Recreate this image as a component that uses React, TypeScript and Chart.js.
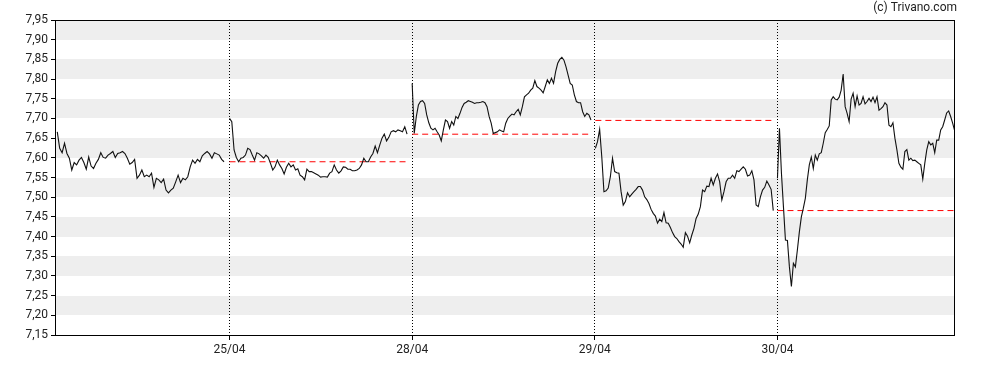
import { useEffect, useRef } from "react";
import { Chart, registerables } from "chart.js";

Chart.register(...registerables);

// ---- data ----
const dayLabels = ["24/04", "25/04", "28/04", "29/04", "30/04"];

const day24 = [7.666, 7.624, 7.613, 7.637, 7.611, 7.599, 7.569, 7.588, 7.582, 7.594, 7.601, 7.588, 7.571, 7.602, 7.579, 7.573, 7.586, 7.596, 7.613, 7.601, 7.599, 7.607, 7.611, 7.616, 7.601, 7.611, 7.613, 7.616, 7.611, 7.599, 7.584, 7.588, 7.596, 7.548, 7.556, 7.569, 7.552, 7.556, 7.552, 7.561, 7.525, 7.548, 7.544, 7.537, 7.546, 7.518, 7.511, 7.518, 7.523, 7.539, 7.556, 7.537, 7.548, 7.544, 7.552, 7.577, 7.594, 7.586, 7.596, 7.590, 7.605, 7.611, 7.616, 7.610, 7.599, 7.613, 7.610, 7.607, 7.596, 7.590];

const day25 = [7.700, 7.692, 7.620, 7.601, 7.590, 7.599, 7.601, 7.607, 7.624, 7.621, 7.607, 7.594, 7.613, 7.610, 7.605, 7.599, 7.607, 7.601, 7.586, 7.569, 7.577, 7.594, 7.582, 7.573, 7.559, 7.576, 7.586, 7.577, 7.582, 7.569, 7.572, 7.556, 7.552, 7.544, 7.571, 7.565, 7.565, 7.562, 7.559, 7.556, 7.551, 7.552, 7.552, 7.551, 7.561, 7.565, 7.582, 7.569, 7.561, 7.567, 7.577, 7.576, 7.571, 7.571, 7.567, 7.567, 7.569, 7.573, 7.582, 7.599, 7.590, 7.590, 7.602, 7.611, 7.630, 7.613, 7.632, 7.650, 7.660, 7.643, 7.652, 7.666, 7.669, 7.666, 7.671, 7.669, 7.666, 7.679, 7.660];

const day28 = [7.789, 7.662, 7.705, 7.734, 7.743, 7.745, 7.738, 7.709, 7.689, 7.675, 7.671, 7.675, 7.666, 7.658, 7.643, 7.671, 7.696, 7.692, 7.675, 7.692, 7.683, 7.705, 7.700, 7.713, 7.728, 7.738, 7.741, 7.745, 7.743, 7.741, 7.738, 7.740, 7.740, 7.741, 7.743, 7.740, 7.730, 7.705, 7.688, 7.662, 7.664, 7.666, 7.671, 7.668, 7.666, 7.688, 7.700, 7.706, 7.711, 7.709, 7.717, 7.723, 7.709, 7.730, 7.755, 7.760, 7.764, 7.772, 7.777, 7.796, 7.781, 7.777, 7.772, 7.765, 7.781, 7.798, 7.789, 7.802, 7.789, 7.819, 7.840, 7.850, 7.855, 7.848, 7.831, 7.810, 7.789, 7.785, 7.760, 7.743, 7.740, 7.740, 7.717, 7.705, 7.713, 7.709, 7.696];

const day29 = [7.624, 7.641, 7.672, 7.602, 7.514, 7.516, 7.523, 7.552, 7.599, 7.565, 7.562, 7.561, 7.514, 7.480, 7.489, 7.511, 7.501, 7.508, 7.514, 7.520, 7.527, 7.527, 7.518, 7.501, 7.494, 7.484, 7.469, 7.459, 7.452, 7.434, 7.444, 7.438, 7.461, 7.435, 7.434, 7.423, 7.410, 7.400, 7.395, 7.387, 7.381, 7.373, 7.410, 7.401, 7.384, 7.404, 7.421, 7.446, 7.457, 7.476, 7.518, 7.514, 7.528, 7.527, 7.548, 7.531, 7.548, 7.559, 7.539, 7.493, 7.514, 7.539, 7.548, 7.548, 7.556, 7.548, 7.567, 7.565, 7.571, 7.577, 7.571, 7.554, 7.556, 7.567, 7.544, 7.480, 7.476, 7.501, 7.518, 7.525, 7.541, 7.531, 7.520, 7.466];

const day30 = [7.548, 7.675, 7.561, 7.476, 7.391, 7.390, 7.323, 7.273, 7.332, 7.323, 7.366, 7.412, 7.450, 7.472, 7.497, 7.544, 7.582, 7.602, 7.573, 7.607, 7.594, 7.610, 7.613, 7.637, 7.664, 7.672, 7.681, 7.747, 7.755, 7.749, 7.747, 7.754, 7.772, 7.813, 7.730, 7.713, 7.692, 7.749, 7.764, 7.730, 7.757, 7.734, 7.738, 7.755, 7.737, 7.743, 7.751, 7.743, 7.754, 7.740, 7.755, 7.721, 7.725, 7.730, 7.740, 7.734, 7.683, 7.679, 7.689, 7.650, 7.620, 7.586, 7.576, 7.571, 7.616, 7.621, 7.594, 7.599, 7.593, 7.594, 7.590, 7.586, 7.582, 7.546, 7.586, 7.620, 7.641, 7.633, 7.637, 7.613, 7.645, 7.645, 7.671, 7.679, 7.696, 7.714, 7.719, 7.705, 7.688, 7.669];

const dayValues = [day24, day25, day28, day29, day30];
// previous close (red dashed reference) per session
const prevClose: (number | null)[] = [null, 7.59, 7.66, 7.695, 7.466];
// session-time position (fraction of a session) of first / last quote
const dayStartFrac = [0.057, 0, 0, 0.003, 0];
const dayEndFrac = [0.97, 0.972, 0.979, 0.977, 0.97];

const yTicks = [7.15, 7.2, 7.25, 7.3, 7.35, 7.4, 7.45, 7.5, 7.55, 7.6, 7.65, 7.7, 7.75, 7.8, 7.85, 7.9, 7.95];
const xTicks = [1, 2, 3, 4];
const xMin = 0.05;
const xMax = 4.972;

const bandPlugin = {
  id: "bands",
  beforeDraw(chart: any) {
    const { ctx, chartArea, scales } = chart;
    const y = scales.y;
    ctx.save();
    ctx.fillStyle = "#eeeeee";
    for (let k = 0; k < yTicks.length - 1; k++) {
      if (k % 2 === 1) {
        const y1 = Math.round(y.getPixelForValue(yTicks[k + 1]));
        const y2 = Math.round(y.getPixelForValue(yTicks[k]));
        ctx.fillRect(chartArea.left, y1, chartArea.right - chartArea.left, y2 - y1);
      }
    }
    ctx.restore();
  },
};

const framePlugin = {
  id: "frame",
  afterDraw(chart: any) {
    const { ctx, chartArea } = chart;
    ctx.save();
    ctx.strokeStyle = "#000";
    ctx.lineWidth = 1;
    const l = Math.round(chartArea.left) - 0.5;
    const t = Math.round(chartArea.top) + 0.5;
    const r = Math.round(chartArea.right) - 0.5;
    const b = Math.round(chartArea.bottom) + 0.5;
    ctx.strokeRect(l, t, r - l, b - t);
    ctx.font = "12px Roboto";
    ctx.fillStyle = "#222";
    ctx.textAlign = "right";
    ctx.textBaseline = "middle";
    ctx.fillText("(c) Trivano.com", 957, 8);
    ctx.restore();
  },
};

export default function App() {
  const ref = useRef<HTMLCanvasElement>(null);
  useEffect(() => {
    document.body.style.margin = "0";
    const datasets: any[] = [];
    dayValues.forEach((vals, d) => {
      const s = d + dayStartFrac[d];
      const e = d + dayEndFrac[d];
      const step = (e - s) / (vals.length - 1);
      datasets.push({
        data: vals.map((v, i) => ({ x: s + i * step, y: v })),
        borderColor: "#111",
        borderWidth: 1.1,
        pointRadius: 0,
        tension: 0,
      });
      const pc = prevClose[d];
      if (pc !== null) {
        datasets.push({
          data: [
            { x: s, y: pc },
            { x: e, y: pc },
          ],
          borderColor: "#ff0000",
          borderWidth: 1,
          borderDash: [6, 4],
          pointRadius: 0,
        });
      }
    });
    Chart.defaults.font.family = "Roboto";
    Chart.defaults.font.size = 12;
    Chart.defaults.color = "#222";
    const chart = new Chart(ref.current!, {
      type: "line",
      data: { datasets },
      options: {
        responsive: false,
        animation: false,
        layout: { padding: { top: 20, right: 33, left: 0, bottom: 0 } },
        plugins: { legend: { display: false }, tooltip: { enabled: false } },
        scales: {
          x: {
            type: "linear",
            min: xMin,
            max: xMax,
            afterBuildTicks: (scale: any) => {
              scale.ticks = xTicks.map((v) => ({ value: v }));
            },
            afterFit: (scale: any) => {
              scale.height = 35;
            },
            ticks: {
              padding: 3,
              autoSkip: false,
              maxRotation: 0,
              callback: (v: any) => dayLabels[Math.round(Number(v))],
            },
            grid: {
              color: "#000",
              lineWidth: 1,
              drawOnChartArea: true,
              drawTicks: true,
              tickLength: 5,
            },
            border: { display: false, dash: [1, 2] },
          },
          y: {
            type: "linear",
            min: 7.15,
            max: 7.95,
            afterBuildTicks: (scale: any) => {
              scale.ticks = yTicks.map((v) => ({ value: v }));
            },
            afterFit: (scale: any) => {
              scale.width = 56;
            },
            ticks: {
              padding: 3,
              autoSkip: false,
              callback: (v: any) => Number(v).toFixed(2).replace(".", ","),
            },
            grid: {
              color: "#000",
              drawOnChartArea: false,
              drawTicks: true,
              tickLength: 5,
            },
            border: { display: false },
          },
        },
      },
      plugins: [bandPlugin, framePlugin],
    });
    return () => chart.destroy();
  }, []);
  return (
    <div style={{ width: 988, height: 370 }}>
      <canvas ref={ref} width={988} height={370} />
    </div>
  );
}
